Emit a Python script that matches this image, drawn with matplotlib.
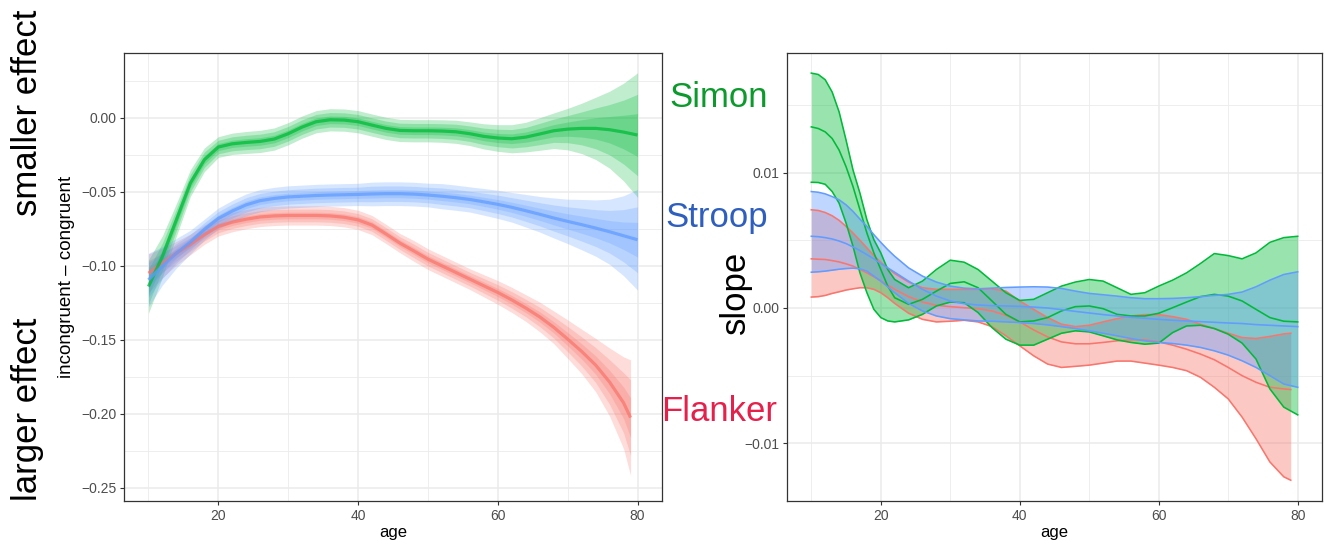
import numpy as np
import matplotlib
matplotlib.use("Agg")
import matplotlib.pyplot as plt

plt.rcParams['font.family'] = ['Liberation Sans', 'DejaVu Sans']

# ---------------- data ----------------
SERIES = ["Flanker", "Simon", "Stroop"]
SERIES_COLORS = {"Flanker": "#F8766D", "Simon": "#00BA38", "Stroop": "#619CFF"}
LABEL_COLORS = {"Simon": "#0B9A2B", "Stroop": "#2E5FBF", "Flanker": "#E5204B"}

# left panel: smoothed effect by age, with 95% half-widths
L_AGE = [10, 12, 14, 16, 18, 20, 22, 24, 26, 28, 30, 32, 34, 36, 38, 40, 42, 44,
         46, 48, 50, 52, 54, 56, 58, 60, 62, 64, 66, 68, 70, 72, 74, 76, 78, 80]
L_AGE_FLANKER = L_AGE[:-1] + [79]

simon_fit = [-0.1140, -0.0937, -0.0689, -0.0441, -0.0284, -0.0198, -0.0176, -0.0167,
             -0.0160, -0.0144, -0.0108, -0.0063, -0.0027, -0.0014, -0.0016, -0.0027,
             -0.0050, -0.0072, -0.0086, -0.0088, -0.0088, -0.0090, -0.0095, -0.0108,
             -0.0126, -0.0137, -0.0142, -0.0131, -0.0110, -0.0088, -0.0077, -0.0072,
             -0.0072, -0.0081, -0.0097, -0.0117]
simon_hw95 = [0.018, 0.014, 0.011, 0.009, 0.008, 0.007, 0.0072, 0.0074,
              0.0075, 0.0075, 0.0075, 0.0075, 0.0075, 0.0075, 0.0075, 0.0075,
              0.0075, 0.0075, 0.0075, 0.0075, 0.0075, 0.0076, 0.0078, 0.0080,
              0.0085, 0.0090, 0.0095, 0.0100, 0.0110, 0.0120, 0.0140, 0.0170,
              0.0210, 0.0260, 0.0330, 0.0420]

stroop_fit = [-0.1095, -0.1000, -0.0915, -0.0840, -0.0755, -0.0680, -0.0630, -0.0588,
              -0.0560, -0.0545, -0.0535, -0.0530, -0.0525, -0.0522, -0.0520, -0.0518,
              -0.0515, -0.0513, -0.0513, -0.0516, -0.0522, -0.0530, -0.0540, -0.0552,
              -0.0568, -0.0585, -0.0605, -0.0628, -0.0652, -0.0677, -0.0700, -0.0722,
              -0.0745, -0.0770, -0.0797, -0.0824]
stroop_hw95 = [0.018, 0.013, 0.010, 0.008, 0.007, 0.007, 0.0072, 0.0074,
               0.0075, 0.0075, 0.0075, 0.0075, 0.0075, 0.0075, 0.0075, 0.0075,
               0.008, 0.008, 0.008, 0.008, 0.008, 0.0085, 0.0085, 0.0085,
               0.009, 0.0095, 0.010, 0.011, 0.012, 0.0135, 0.015, 0.017,
               0.019, 0.022, 0.027, 0.034]

flanker_fit = [-0.1050, -0.0980, -0.0915, -0.0855, -0.0790, -0.0734, -0.0705, -0.0685,
               -0.0670, -0.0663, -0.0660, -0.0660, -0.0660, -0.0663, -0.0672, -0.0690,
               -0.0725, -0.0785, -0.0847, -0.0900, -0.0955, -0.1000, -0.1045, -0.1090,
               -0.1135, -0.1180, -0.1230, -0.1285, -0.1345, -0.1415, -0.1495, -0.1578,
               -0.1670, -0.1785, -0.1925, -0.2025]
flanker_hw95 = [0.013, 0.010, 0.008, 0.007, 0.0065, 0.0065, 0.0065, 0.0065,
                0.0065, 0.0065, 0.0065, 0.0065, 0.0065, 0.0065, 0.0065, 0.0065,
                0.0065, 0.0065, 0.0065, 0.007, 0.007, 0.007, 0.007, 0.007,
                0.0075, 0.008, 0.0085, 0.009, 0.010, 0.011, 0.013, 0.015,
                0.018, 0.023, 0.031, 0.039]

# nested interval levels (95 %, 80 %, 50 %) expressed as z-scores
BAND_Z = [1.96, 1.2816, 0.6745]

# right panel: slope by age (units of 1e-3), lower / middle / upper
R_AGE = [10, 11, 12, 13, 14, 15, 16, 17, 18, 19, 20, 21, 22, 24, 26, 28, 30, 32,
         34, 36, 38, 40, 42, 44, 46, 48, 50, 52, 54, 56, 58, 60, 62, 64, 66, 68,
         70, 72, 74, 76, 78, 80]
R_AGE_FLANKER = R_AGE[:-1] + [79]
SLOPE_UNIT = 1e-3

simon_upper = [17.39, 17.29, 16.90, 15.99, 14.52, 12.43, 10.22, 8.50, 6.53, 5.06, 4.08,
               2.85, 2.11, 1.50, 1.99, 2.85, 3.54, 3.39, 2.85, 1.99, 1.13, 0.56, 0.64,
               1.13, 1.62, 1.92, 2.11, 1.99, 1.50, 1.01, 1.13, 1.62, 2.06, 2.60, 3.29,
               4.03, 3.88, 3.64, 4.08, 4.86, 5.21, 5.31]
simon_mid = [13.41, 13.29, 13.04, 12.55, 11.69, 10.46, 8.99, 7.27, 5.55, 4.08, 2.85,
             1.62, 0.76, 0.27, 0.64, 1.25, 1.82, 1.94, 1.50, 0.52, -0.47, -1.03, -0.96,
             -0.71, -0.22, 0.10, 0.15, -0.05, -0.47, -0.59, -0.59, -0.39, 0.02, 0.44,
             0.84, 1.01, 0.88, 0.52, -0.10, -0.71, -0.98, -1.03]
simon_lower = [9.31, 9.29, 9.16, 8.62, 7.76, 6.29, 4.57, 2.60, 1.13, -0.10, -0.71,
               -0.96, -1.03, -0.88, -0.47, 0.15, 0.44, 0.39, -0.34, -1.45, -2.31, -2.75,
               -2.75, -2.31, -1.87, -1.69, -1.77, -2.06, -2.36, -2.55, -2.68, -2.60,
               -1.82, -1.33, -1.28, -1.52, -1.94, -2.60, -3.78, -5.99, -7.34, -7.91]

stroop_upper = [8.62, 8.57, 8.45, 8.25, 8.01, 7.64, 7.15, 6.58, 6.04, 5.43, 4.86, 4.32,
                3.83, 2.97, 2.36, 1.92, 1.62, 1.47, 1.42, 1.47, 1.52, 1.55, 1.57, 1.55,
                1.45, 1.25, 1.08, 0.98, 0.88, 0.76, 0.69, 0.69, 0.71, 0.76, 0.84, 0.93,
                1.01, 1.18, 1.57, 2.06, 2.48, 2.68]
stroop_mid = [5.31, 5.28, 5.21, 5.11, 4.96, 4.77, 4.52, 4.25, 3.95, 3.64, 3.29, 2.97,
              2.65, 1.99, 1.38, 0.88, 0.52, 0.32, 0.22, 0.17, 0.15, 0.12, 0.07, 0.00,
              -0.12, -0.25, -0.37, -0.49, -0.59, -0.69, -0.76, -0.84, -0.91, -0.96,
              -1.01, -1.06, -1.11, -1.15, -1.23, -1.28, -1.33, -1.38]
stroop_lower = [2.65, 2.68, 2.73, 2.80, 2.87, 2.92, 2.95, 2.90, 2.73, 2.36, 1.99, 1.57,
                1.13, 0.34, -0.22, -0.59, -0.79, -0.88, -0.96, -0.98, -1.03, -1.08,
                -1.15, -1.25, -1.38, -1.52, -1.69, -1.87, -2.06, -2.26, -2.43, -2.55,
                -2.63, -2.75, -2.92, -3.17, -3.49, -3.91, -4.40, -5.01, -5.63, -5.87]

flanker_upper = [7.27, 7.22, 7.07, 6.83, 6.49, 6.04, 5.55, 5.01, 4.45, 3.88, 3.39, 2.95,
                 2.55, 1.92, 1.50, 1.38, 1.38, 1.38, 1.38, 1.42, 1.25, 0.52, -0.10,
                 -0.71, -1.20, -1.38, -1.28, -1.03, -0.79, -0.59, -0.49, -0.49, -0.64,
                 -0.84, -1.20, -1.52, -1.87, -2.19, -2.26, -2.11, -1.92, -1.87]
flanker_mid = [3.64, 3.61, 3.59, 3.51, 3.41, 3.27, 3.10, 2.85, 2.60, 2.31, 2.01, 1.69,
               1.38, 0.84, 0.44, 0.20, 0.10, 0.02, -0.05, -0.22, -0.54, -1.03, -1.62,
               -2.14, -2.51, -2.65, -2.65, -2.55, -2.43, -2.36, -2.36, -2.51, -2.75,
               -3.05, -3.41, -3.83, -4.40, -5.01, -5.50, -5.87, -5.99, -6.04]
flanker_lower = [0.81, 0.84, 0.93, 1.08, 1.20, 1.33, 1.42, 1.50, 1.50, 1.38, 1.13, 0.76,
                 0.34, -0.39, -0.84, -1.03, -0.98, -0.91, -1.03, -1.38, -2.06, -2.80,
                 -3.54, -4.15, -4.40, -4.32, -4.23, -4.08, -3.93, -3.93, -4.08, -4.23,
                 -4.40, -4.64, -5.13, -5.87, -6.73, -8.08, -9.68, -11.40, -12.50, -12.75]

# ticks
X_TICKS = [20, 40, 60, 80]
X_MINOR = [10, 30, 50, 70]
L_YTICKS = [0.00, -0.05, -0.10, -0.15, -0.20, -0.25]
L_YTICKLABELS = ["0.00", "\u22120.05", "\u22120.10", "\u22120.15", "\u22120.20", "\u22120.25"]
L_YMINOR = [0.025, -0.025, -0.075, -0.125, -0.175, -0.225]
R_YTICKS = [0.01, 0.00, -0.01]
R_YTICKLABELS = ["0.01", "0.00", "\u22120.01"]
R_YMINOR = [0.015, 0.005, -0.005]

# ---------------- figure ----------------
W, H = 1326, 544
fig = plt.figure(figsize=(W / 100, H / 100), dpi=100)


def px_rect(x0, y0, x1, y1):
    return [x0 / W, 1 - y1 / H, (x1 - x0) / W, (y1 - y0) / H]


axL = fig.add_axes(px_rect(124, 53, 662, 501))
axR = fig.add_axes(px_rect(787, 53, 1322, 501))

for ax in (axL, axR):
    ax.set_facecolor("white")
    ax.set_axisbelow(True)
    for s in ax.spines.values():
        s.set_color("#333333")
        s.set_linewidth(0.9)
    ax.tick_params(axis="both", which="major", direction="out", length=2.9, width=0.8,
                   color="#333333", labelcolor="#4D4D4D", labelsize=10, pad=2.5)
    ax.tick_params(axis="both", which="minor", length=0)
    ax.set_xticks(X_TICKS)
    ax.set_xticks(X_MINOR, minor=True)
    ax.grid(True, which="major", color="#EBEBEB", linewidth=1.1)
    ax.grid(True, which="minor", color="#EBEBEB", linewidth=0.6)
    ax.set_xlim(6.5, 83.5)

# ----- left panel -----
left_data = [
    ("Flanker", L_AGE_FLANKER, flanker_fit, flanker_hw95),
    ("Simon", L_AGE, simon_fit, simon_hw95),
    ("Stroop", L_AGE, stroop_fit, stroop_hw95),
]
for name, age, fit, hw in left_data:
    a = np.array(age, float)
    f = np.array(fit, float)
    se = np.array(hw, float) / BAND_Z[0]
    col = SERIES_COLORS[name]
    for z in BAND_Z:
        axL.fill_between(a, f - z * se, f + z * se, color=col, alpha=0.25, lw=0)
for name, age, fit, hw in left_data:
    axL.plot(age, fit, color=SERIES_COLORS[name], lw=2.3, alpha=0.75,
             solid_capstyle="butt")

axL.set_yticks(L_YTICKS, labels=L_YTICKLABELS)
axL.set_yticks(L_YMINOR, minor=True)
axL.set_ylim(-0.2588, 0.0437)
axL.set_xlabel("age", fontsize=12, labelpad=2)
axL.set_ylabel("incongruent \u2013 congruent", fontsize=13.5)
axL.yaxis.set_label_coords(-0.106, 0.5)
axL.yaxis.label.set(rotation_mode="anchor", va="center", ha="center")

# ----- right panel -----
right_data = [
    ("Flanker", R_AGE_FLANKER, flanker_lower, flanker_mid, flanker_upper),
    ("Simon", R_AGE, simon_lower, simon_mid, simon_upper),
    ("Stroop", R_AGE, stroop_lower, stroop_mid, stroop_upper),
]
for name, age, lo, mid, up in right_data:
    col = SERIES_COLORS[name]
    lo = np.array(lo) * SLOPE_UNIT
    mid = np.array(mid) * SLOPE_UNIT
    up = np.array(up) * SLOPE_UNIT
    axR.fill_between(age, lo, up, color=col, alpha=0.4, lw=0)
    for series in (lo, mid, up):
        axR.plot(age, series, color=col, lw=1.15)

axR.set_yticks(R_YTICKS, labels=R_YTICKLABELS)
axR.set_yticks(R_YMINOR, minor=True)
axR.set_ylim(-0.01429, 0.01888)
axR.set_xlabel("age", fontsize=12, labelpad=2)

# ----- annotation texts -----
def fx(x):
    return x / W


def fy(y):
    return 1 - y / H


fig.text(fx(28), fy(113), "smaller effect", rotation=90, rotation_mode="anchor",
         ha="center", va="center", fontsize=25, color="black")
fig.text(fx(28), fy(409), "larger effect", rotation=90, rotation_mode="anchor",
         ha="center", va="center", fontsize=25, color="black")
fig.text(fx(735), fy(292), "slope", rotation=90, rotation_mode="anchor",
         ha="center", va="center", fontsize=25, color="black")

fig.text(fx(669), fy(107), "Simon", ha="left", va="baseline", fontsize=25,
         color=LABEL_COLORS["Simon"])
fig.text(fx(665), fy(227), "Stroop", ha="left", va="baseline", fontsize=25,
         color=LABEL_COLORS["Stroop"])
fig.text(fx(661), fy(421), "Flanker", ha="left", va="baseline", fontsize=25,
         color=LABEL_COLORS["Flanker"])

fig.savefig("out.png", dpi=100, facecolor="white")
